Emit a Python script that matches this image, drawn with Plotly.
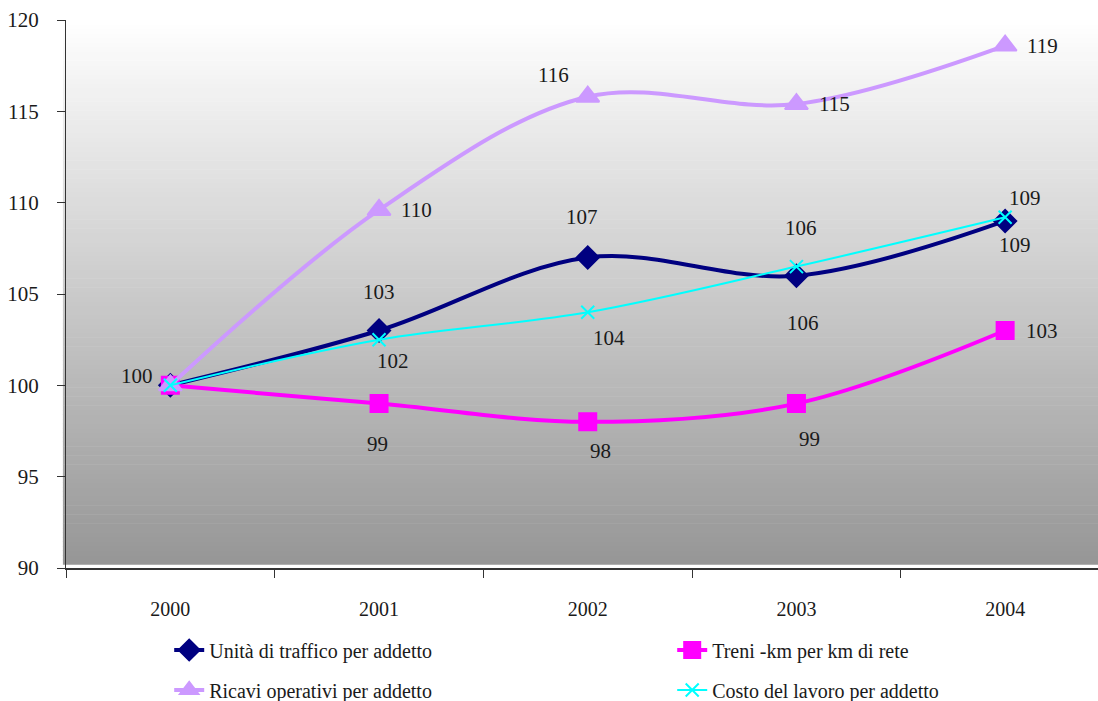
import plotly.graph_objects as go

# Indici (2000 = 100)
anni = ["2000", "2001", "2002", "2003", "2004"]
unita_traffico = [100, 103.0, 107.0, 106.0, 109.0]
treni_km = [100, 99.0, 98.0, 99.0, 103.0]
ricavi_operativi = [100, 109.6, 115.8, 115.4, 118.6]
costo_lavoro = [100, 102.5, 104.0, 106.5, 109.2]

FONT = "Liberation Serif, DejaVu Serif, Times New Roman, serif"

series = [
    ("Unità di traffico per addetto", unita_traffico, "#000080", 4, "diamond", 17, "legend"),
    ("Treni -km per km di rete", treni_km, "#FF00FF", 4, "square", 17, "legend"),
    ("Ricavi operativi per addetto", ricavi_operativi, "#CC99FF", 4, "triangle-up", 20, "legend2"),
    ("Costo del lavoro per addetto", costo_lavoro, "#00FFFF", 2, "x-thin-open", 13, "legend2"),
]

fig = go.Figure()
for name, vals, col, lw, sym, ms, leg in series:
    fig.add_trace(go.Scatter(
        x=anni, y=vals, name=name, mode="lines+markers", legend=leg,
        line=dict(color=col, width=lw, shape="spline", smoothing=1.0),
        marker=dict(symbol=sym, size=ms, color=col,
                    line=dict(color=col, width=2)),
    ))

# value labels: (series index, point index, dx px, dy px)
label_offsets = [
    (0, 1, 0, 39), (0, 2, -6, 40), (0, 3, 5, 48), (0, 4, 10, -24),
    (1, 0, -33, 9), (1, 1, -2, -40), (1, 2, 13, -29), (1, 3, 13, -35), (1, 4, 37, 0),
    (2, 1, 37, 0), (2, 2, -34, 22), (2, 3, 38, 0), (2, 4, 37, 0),
    (3, 1, 14, -21), (3, 2, 21, -26), (3, 3, 7, -56), (3, 4, 20, 19),
]
annotations = []
for si, pi, dx, dy in label_offsets:
    vals = series[si][1]
    annotations.append(dict(
        xref="x", yref="y", x=pi, y=vals[pi], text=str(int(round(vals[pi]))),
        showarrow=False, xshift=dx, yshift=dy,
        font=dict(family=FONT, size=21, color="#1a1a1a"),
    ))

# vertical white-to-grey background gradient
shapes = []
n_strips = 120
top_val, bot_val = 255, 150
for i in range(n_strips):
    y0 = 0.006 + (1 - 0.006) * i / n_strips
    y1 = 0.006 + (1 - 0.006) * (i + 1) / n_strips
    t = (i + 0.5) / n_strips
    g = round(bot_val + (top_val - bot_val) * t)
    shapes.append(dict(type="rect", xref="paper", yref="paper",
                       x0=-0.003, x1=1.0, y0=y0, y1=min(y1 + 0.001, 1.0),
                       fillcolor=f"rgb({g},{g},{g})", line_width=0, layer="below"))

legend_common = dict(
    orientation="h", xanchor="left", yanchor="middle",
    entrywidth=458, entrywidthmode="pixels",
    font=dict(family=FONT, size=20, color="#1a1a1a"),
    bgcolor="rgba(0,0,0,0)", itemwidth=30,
)

fig.update_layout(
    width=1098, height=701,
    margin=dict(l=66, r=0, t=20, b=133, autoexpand=False),
    paper_bgcolor="white", plot_bgcolor="white",
    font=dict(family=FONT, size=20, color="#1a1a1a"),
    showlegend=True,
    legend=dict(x=0.1, y=-(650 - 568) / 548, **legend_common),
    legend2=dict(x=0.1, y=-(690 - 568) / 548, **legend_common),
    annotations=annotations,
    shapes=shapes,
    xaxis=dict(
        type="category", range=[-0.5, 4.445], tickson="boundaries",
        ticks="outside", ticklen=8, tickcolor="#333", tickwidth=1,
        showline=True, linecolor="#333", linewidth=1.5,
        showgrid=False, zeroline=False, ticklabelstandoff=22,
        tickfont=dict(family=FONT, size=20, color="#1a1a1a"),
    ),
    yaxis=dict(
        range=[90, 120], dtick=5, tick0=90,
        ticks="outside", ticklen=8, tickcolor="#333", tickwidth=1,
        showline=True, linecolor="#333", linewidth=1,
        showgrid=False, zeroline=False, ticklabelstandoff=14,
        tickfont=dict(family=FONT, size=21, color="#1a1a1a"),
    ),
)

fig.write_html("out.html")
